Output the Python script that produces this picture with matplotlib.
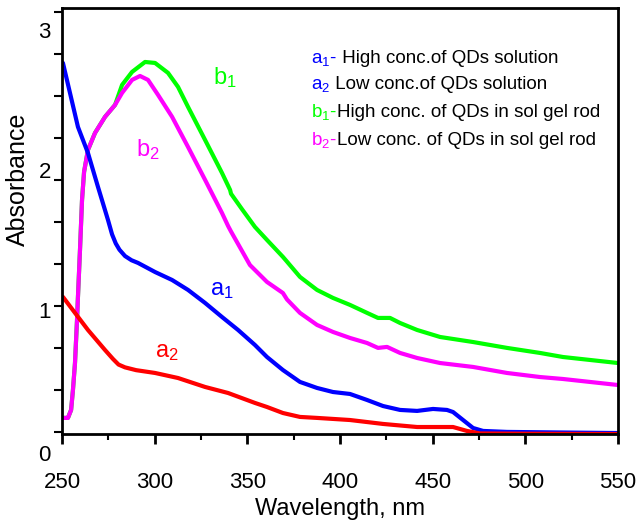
import numpy as np
import matplotlib.pyplot as plt

plt.rcParams['font.family'] = ['Liberation Sans', 'DejaVu Sans']
plt.rcParams['mathtext.default'] = 'regular'

# a1 - high conc. of QDs solution (blue)
a1_x = [250.5, 258.6, 264.0, 269.4, 274.8, 277.0, 279.0, 281.0, 284.0, 287.5,
        291.0, 300.2, 309.4, 318.0, 327.2, 336.3, 345.0, 354.1, 360.6, 369.2,
        378.4, 387.6, 396.2, 405.4, 414.6, 423.2, 432.4, 441.6, 450.2, 457.7,
        461.0, 466.4, 471.8, 477.2, 490.1, 518.7, 550.0]
a1_y = [2.764, 2.307, 2.121, 1.879, 1.643, 1.54, 1.475, 1.43, 1.385, 1.355,
        1.336, 1.271, 1.214, 1.143, 1.05, 0.95, 0.857, 0.75, 0.664, 0.571,
        0.486, 0.443, 0.414, 0.40, 0.357, 0.314, 0.286, 0.279, 0.293, 0.286,
        0.271, 0.214, 0.157, 0.136, 0.129, 0.125, 0.121]

# a2 - low conc. of QDs solution (red)
a2_x = [250.5, 257.0, 264.0, 273.2, 277.5, 280.5, 284.0, 290.0, 300.2, 312.6,
        327.2, 339.6, 354.1, 360.6, 369.2, 378.4, 387.6, 405.4, 423.2, 441.6,
        454.0, 461.0, 468.5, 475.5, 500.0, 550.0]
a2_y = [1.093, 0.979, 0.857, 0.714, 0.65, 0.61, 0.59, 0.57, 0.55, 0.514,
        0.45, 0.407, 0.336, 0.307, 0.264, 0.236, 0.229, 0.214, 0.186, 0.164,
        0.164, 0.164, 0.136, 0.118, 0.116, 0.114]

# b2 - low conc. of QDs in sol gel rod (magenta)
b2_x = [251.1, 253.2, 254.9, 255.9, 257.0, 258.1, 258.6, 259.7, 260.8, 261.9,
        264.0, 267.8, 273.2, 278.6, 282.4, 287.8, 292.1, 296.4, 301.8, 309.4,
        318.0, 327.2, 336.3, 339.6, 341.2, 351.4, 360.6, 369.2, 371.4, 378.4,
        387.6, 396.2, 405.4, 414.6, 420.5, 425.4, 432.4, 441.6, 454.0, 471.8,
        490.1, 507.9, 520.3, 550.0]
b2_y = [0.229, 0.229, 0.286, 0.429, 0.621, 0.929, 1.093, 1.429, 1.786, 1.986,
        2.143, 2.264, 2.379, 2.464, 2.55, 2.643, 2.671, 2.643, 2.536, 2.379,
        2.164, 1.929, 1.693, 1.60, 1.56, 1.321, 1.20, 1.121, 1.075, 0.979,
        0.893, 0.843, 0.80, 0.764, 0.729, 0.736, 0.693, 0.657, 0.621, 0.593,
        0.55, 0.521, 0.507, 0.464]

# b1 - high conc. of QDs in sol gel rod (green), same as b2 below ~279 nm
b1_x = b2_x[:14] + [282.4, 287.8, 294.8, 300.2, 307.2, 312.6, 318.0, 327.2,
                    336.3, 340.7, 341.2, 347.1, 354.1, 360.6, 369.2, 371.4,
                    378.4, 387.6, 396.2, 405.4, 414.6, 420.5, 427.0, 432.4,
                    441.6, 454.0, 471.8, 490.1, 507.9, 520.3, 550.0]
b1_y = b2_y[:14] + [2.607, 2.70, 2.771, 2.764, 2.693, 2.593, 2.45, 2.214,
                    1.979, 1.857, 1.83, 1.72, 1.593, 1.50, 1.379, 1.345,
                    1.236, 1.143, 1.086, 1.036, 0.979, 0.943, 0.943, 0.907,
                    0.857, 0.807, 0.771, 0.729, 0.693, 0.664, 0.621]

legend_prefix = ['a$_1$-', 'a$_2$', 'b$_1$-', 'b$_2$-']
legend_text = [' High conc.of QDs solution', ' Low conc.of QDs solution',
               'High conc. of QDs in sol gel rod', 'Low conc. of QDs in sol gel rod']
legend_colors = ['#0000ff', '#0000ff', '#00ff00', '#ff00ff']

fig = plt.figure(figsize=(6.42, 5.28), dpi=100)
ax = fig.add_axes([0.0966, 0.178, 0.866, 0.807])

kw = dict(lw=3, solid_joinstyle='round', solid_capstyle='round')
ax.plot(b1_x, b1_y, color='#00ff00', **kw)
ax.plot(b2_x, b2_y, color='#ff00ff', **kw)
ax.plot(a1_x, a1_y, color='#0000ff', **kw)
ax.plot(a2_x, a2_y, color='#ff0000', **kw)

# curve labels
ax.text(337.9, 2.657, 'b$_1$', color='#00ff00', fontsize=17, ha='center', va='center')
ax.text(296.4, 2.143, 'b$_2$', color='#ff00ff', fontsize=17, ha='center', va='center')
ax.text(336.3, 1.143, 'a$_1$', color='#0000ff', fontsize=17, ha='center', va='center')
ax.text(306.7, 0.70, 'a$_2$', color='#ff0000', fontsize=17, ha='center', va='center')

# text legend
ys = [0.871, 0.810, 0.744, 0.678]
for pre, txt, col, yy in zip(legend_prefix, legend_text, legend_colors, ys):
    t = ax.text(0.448, yy, pre, color=col, fontsize=13.5, transform=ax.transAxes,
                ha='left', va='baseline')
    ax.annotate(txt, xy=(1.0, yy), xycoords=(t, 'axes fraction'),
                fontsize=13.5, color='black', ha='left', va='baseline')

ax.set_xlim(250, 550)
ax.set_ylim(0.114, 3.157)
ax.set_xticks(np.arange(250, 551, 50))
ax.set_xticks(np.arange(275, 550, 25), minor=True)
ax.set_yticks([1, 2, 3])
ax.set_yticks(np.arange(0.129, 3.15, 0.3), minor=True)
ax.tick_params(axis='y', which='major', length=0, pad=8, labelsize=16)
ax.tick_params(axis='y', which='minor', length=6, width=1.5)
ax.tick_params(axis='x', which='major', length=7, width=2, pad=20, labelsize=16)
ax.tick_params(axis='x', which='minor', length=4, width=1.5)
ax.text(-0.02, -0.04, '0', transform=ax.get_yaxis_transform(), ha='right',
        va='center', fontsize=16, clip_on=False)

for s in ax.spines.values():
    s.set_linewidth(2)

ax.set_xlabel('Wavelength, nm', fontsize=17, labelpad=4)
ax.set_ylabel('Absorbance', fontsize=18)
ax.yaxis.set_label_coords(-0.058, 0.597)

fig.savefig('out.png', dpi=100)
